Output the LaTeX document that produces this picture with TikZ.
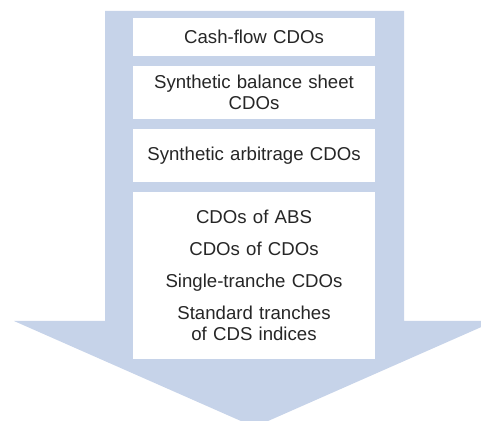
\documentclass[tikz,border=0pt]{standalone}
\usepackage{fontspec}
\setmainfont{Liberation Sans}
\usepackage{tikz}
\definecolor{arrowblue}{RGB}{198,211,233}

\begin{document}
\begin{tikzpicture}
  [x=0.02cm,y=-0.02cm,
   box/.style={rectangle,fill=white,align=center,inner sep=0,outer sep=0,
               minimum width=4.84cm,text width=4.6cm,text=black!85,
               font=\fontsize{10.6}{12.2}\selectfont},
   bigarrow/.style={fill=arrowblue,draw=none}]
  \useasboundingbox (0,0) rectangle (481,421);
  \clip (0,0) rectangle (481,421);
  \fill[bigarrow] (105,11) -- (404,11) -- (404,321) -- (495,321)
    -- (254.5,427) -- (14,321) -- (105,321) -- cycle;
  \node[box,minimum height=0.754cm] (cashflow) at (254,36.9) {Cash-flow CDOs};
  \node[box,minimum height=1.054cm] (balance) at (254,92.3)
    {Synthetic balance sheet\\ CDOs};
  \node[box,minimum height=1.054cm] (arbitrage) at (254,155.3)
    {Synthetic arbitrage CDOs};
  \node[box,minimum height=3.334cm] (others) at (254,275.3)
    {CDOs of ABS\\[6pt] CDOs of CDOs\\[6pt] Single-tranche CDOs\\[6pt]
     Standard tranches\\ of CDS indices};
\end{tikzpicture}
\end{document}
